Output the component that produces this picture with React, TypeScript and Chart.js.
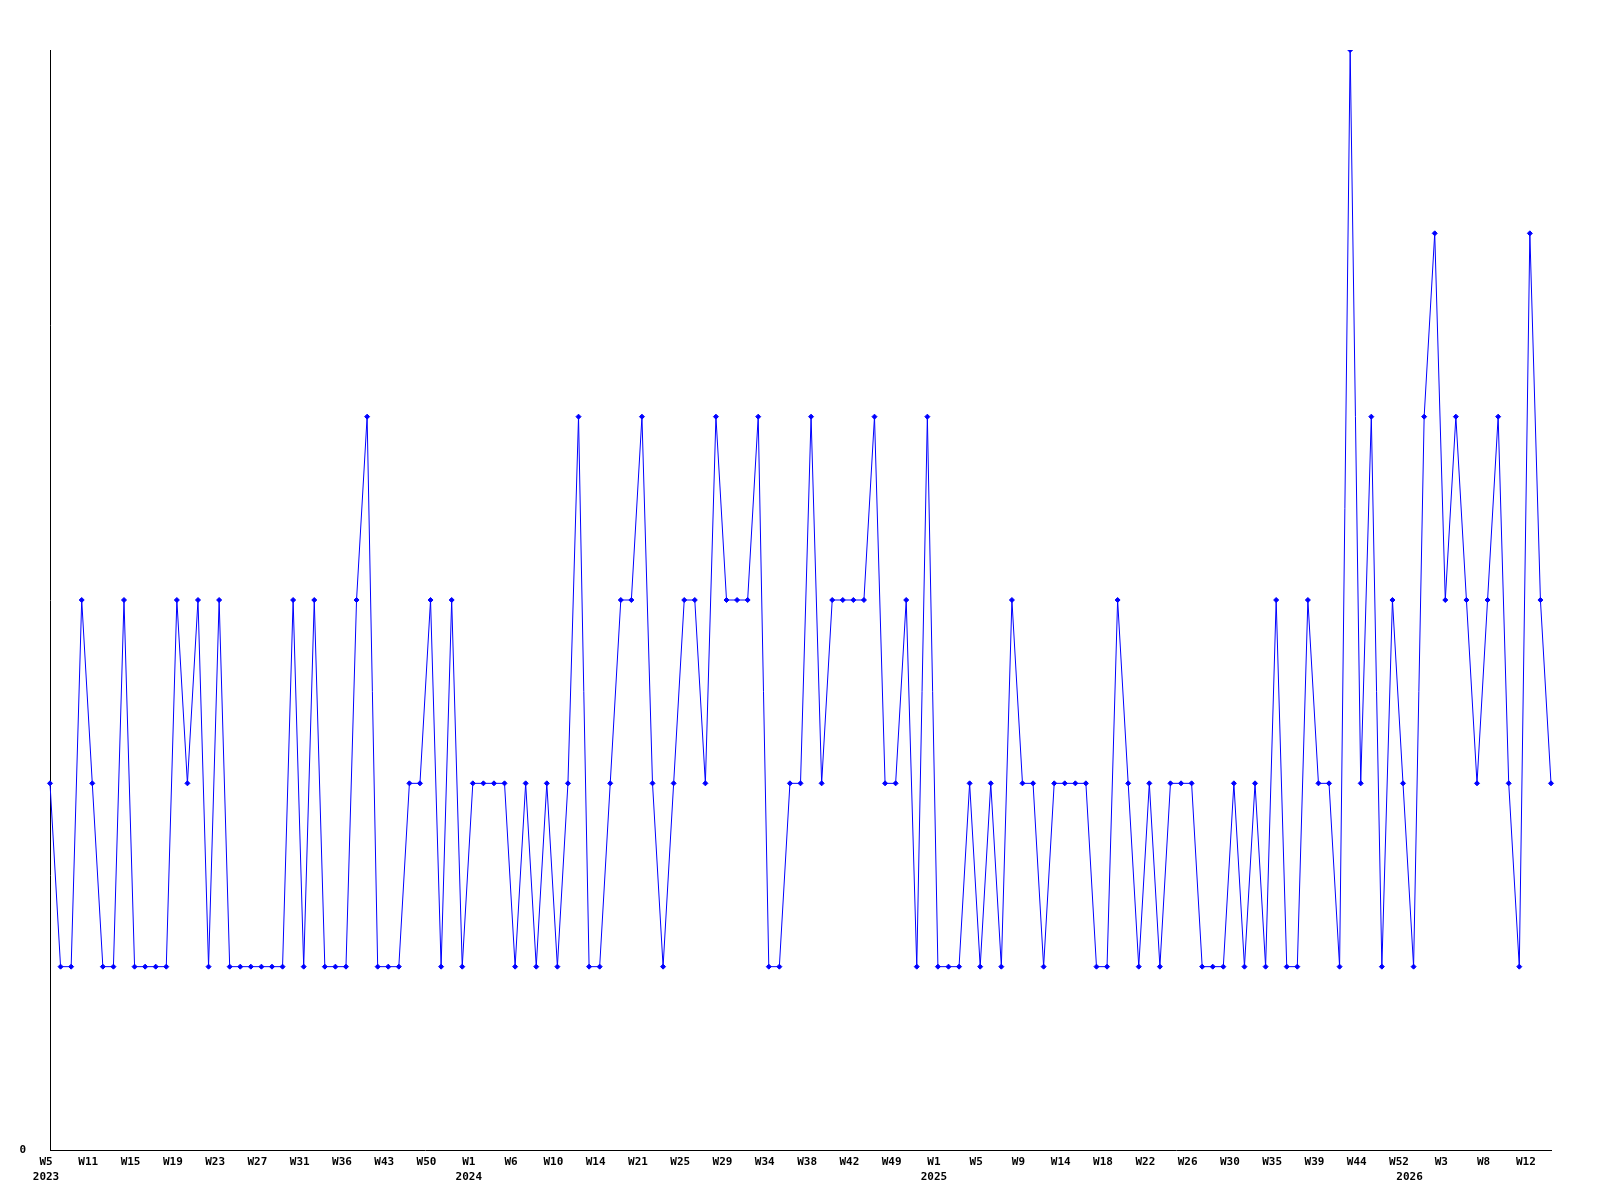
import React, { useEffect, useRef } from 'react';
import { Chart, registerables } from 'chart.js';

Chart.register(...registerables);

// year of each sample
const weekYears: number[] = [
  2023, 2023, 2023, 2023, 2023, 2023, 2023, 2023, 2023, 2023,
  2023, 2023, 2023, 2023, 2023, 2023, 2023, 2023, 2023, 2023,
  2023, 2023, 2023, 2023, 2023, 2023, 2023, 2023, 2023, 2023,
  2023, 2023, 2023, 2023, 2023, 2023, 2023, 2023, 2023, 2023,
  2024, 2024, 2024, 2024, 2024, 2024, 2024, 2024, 2024, 2024,
  2024, 2024, 2024, 2024, 2024, 2024, 2024, 2024, 2024, 2024,
  2024, 2024, 2024, 2024, 2024, 2024, 2024, 2024, 2024, 2024,
  2024, 2024, 2024, 2024, 2024, 2024, 2024, 2024, 2024, 2024,
  2024, 2024, 2024, 2024, 2025, 2025, 2025, 2025, 2025, 2025,
  2025, 2025, 2025, 2025, 2025, 2025, 2025, 2025, 2025, 2025,
  2025, 2025, 2025, 2025, 2025, 2025, 2025, 2025, 2025, 2025,
  2025, 2025, 2025, 2025, 2025, 2025, 2025, 2025, 2025, 2025,
  2025, 2025, 2025, 2025, 2025, 2025, 2025, 2025, 2025, 2026,
  2026, 2026, 2026, 2026, 2026, 2026, 2026, 2026, 2026, 2026,
  2026, 2026, 2026,
];

// week number of each sample
const weekNums: number[] = [
  5, 7, 8, 10, 11, 12, 13, 14, 15, 16,
  17, 18, 19, 20, 21, 22, 23, 24, 25, 26,
  27, 28, 29, 30, 31, 32, 34, 35, 36, 38,
  40, 41, 43, 45, 47, 48, 50, 51, 52, 52,
  1, 2, 3, 5, 6, 7, 8, 9, 10, 11,
  12, 13, 14, 16, 18, 19, 21, 22, 23, 24,
  25, 26, 27, 28, 29, 30, 32, 33, 34, 35,
  36, 37, 38, 39, 40, 41, 42, 44, 46, 47,
  49, 50, 51, 52, 1, 2, 3, 4, 5, 6,
  7, 8, 9, 10, 12, 13, 14, 15, 16, 17,
  18, 19, 20, 21, 22, 23, 24, 25, 26, 27,
  28, 29, 30, 31, 33, 34, 35, 36, 37, 38,
  39, 40, 42, 43, 44, 46, 48, 50, 52, 1,
  2, 2, 3, 4, 6, 7, 8, 9, 10, 11,
  12, 13, 14,
];

// series values
const values: number[] = [
  2, 1, 1, 3, 2, 1, 1, 3, 1, 1,
  1, 1, 3, 2, 3, 1, 3, 1, 1, 1,
  1, 1, 1, 3, 1, 3, 1, 1, 1, 3,
  4, 1, 1, 1, 2, 2, 3, 1, 3, 1,
  2, 2, 2, 2, 1, 2, 1, 2, 1, 2,
  4, 1, 1, 2, 3, 3, 4, 2, 1, 2,
  3, 3, 2, 4, 3, 3, 3, 4, 1, 1,
  2, 2, 4, 2, 3, 3, 3, 3, 4, 2,
  2, 3, 1, 4, 1, 1, 1, 2, 1, 2,
  1, 3, 2, 2, 1, 2, 2, 2, 2, 1,
  1, 3, 2, 1, 2, 1, 2, 2, 2, 1,
  1, 1, 2, 1, 2, 1, 3, 1, 1, 3,
  2, 2, 1, 6, 2, 4, 1, 3, 2, 1,
  4, 5, 3, 4, 3, 2, 3, 4, 2, 1,
  5, 3, 2,
];

const yMin = 0;
const yMax = 6;
const labelEvery = 4;

export default function App() {
  const ref = useRef<HTMLCanvasElement | null>(null);

  useEffect(() => {
    if (!ref.current) return;
    const labels = weekNums.map((n) => 'W' + n);
    const font = { family: "'DejaVu Sans Mono', monospace", weight: 'bold' as const, size: 11, lineHeight: 1.4 };
    const chart = new Chart(ref.current, {
      type: 'line',
      data: {
        labels,
        datasets: [
          {
            data: values,
            borderColor: '#0000ff',
            backgroundColor: '#0000ff',
            borderWidth: 1,
            pointStyle: 'rectRot',
            pointRadius: 2.5,
            pointBorderWidth: 1,
            pointBorderColor: '#0000ff',
            pointBackgroundColor: '#0000ff',
            tension: 0,
            fill: false,
          },
        ],
      },
      options: {
        animation: false,
        responsive: false,
        maintainAspectRatio: false,
        events: [],
        layout: { autoPadding: false, padding: { top: 50, right: 49, left: 0, bottom: 0 } },
        plugins: { legend: { display: false }, tooltip: { enabled: false }, title: { display: false } },
        scales: {
          x: {
            type: 'category',
            grid: { display: false, drawTicks: false },
            border: { display: true, color: '#000000', width: 1 },
            ticks: {
              autoSkip: false,
              maxRotation: 0,
              minRotation: 0,
              padding: 4,
              labelOffset: -4,
              color: '#000000',
              font,
              callback: (_v: any, i: number) => {
                const w = i % labelEvery === 0 ? labels[i] : '';
                const yr = i === 0 || weekYears[i] !== weekYears[i - 1] ? String(weekYears[i]) : '';
                return yr ? [w, yr] : w;
              },
            },
            afterFit: (s: any) => {
              s.height = 50;
            },
          },
          y: {
            type: 'linear',
            min: yMin,
            max: yMax,
            grid: { display: false, drawTicks: false },
            border: { display: true, color: '#000000', width: 1 },
            ticks: {
              stepSize: yMax - yMin,
              padding: 24,
              color: '#000000',
              font,
              callback: (v: any) => (v === 0 ? '0' : ''),
            },
            afterFit: (s: any) => {
              s.width = 50;
            },
          },
        },
      },
    });
    return () => chart.destroy();
  }, []);

  return (
    <div style={{ position: 'absolute', left: 0, top: 0, width: 1600, height: 1200, background: '#ffffff' }}>
      <canvas ref={ref} width={1600} height={1200} style={{ display: 'block' }} />
    </div>
  );
}
